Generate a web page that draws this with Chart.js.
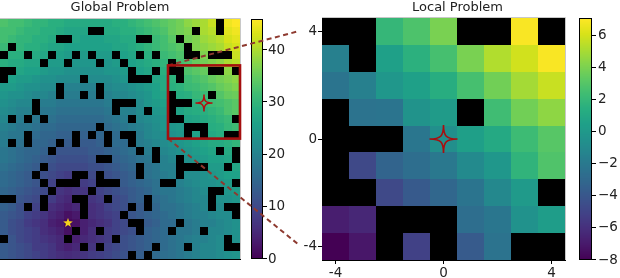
<!DOCTYPE html>
<html><head><meta charset="utf-8">
<script src="https://cdn.jsdelivr.net/npm/chart.js@4.4.0/dist/chart.umd.min.js"></script>
<style>
html,body{margin:0;padding:0;background:#fff;}
#wrap{position:relative;width:620px;height:278px;overflow:hidden;background:#fff;}
canvas{position:absolute;top:0;}
</style></head><body>
<div id="wrap">
<canvas id="g" width="620" height="278" style="left:0;width:620px;height:278px"></canvas>
<canvas id="l" width="325" height="278" style="left:295px;width:325px;height:278px"></canvas>
</div>
<script>
// ---------- data ----------
const globalValues = [
[33,32,32,31,30,30,29,29,28,28,28,28,28,28,29,29,30,31,32,33,34,35,36,38,39,40,42,43,45,46],
[32,32,31,30,30,29,29,28,27,27,27,27,27,28,28,29,29,30,31,32,33,35,36,37,38,40,41,42,44,45],
[32,31,30,30,29,29,28,27,27,27,26,26,26,27,27,28,28,29,30,31,32,34,35,36,37,39,40,41,43,44],
[31,30,30,29,29,28,27,27,26,26,26,26,26,26,27,27,28,29,30,31,32,33,34,35,37,38,39,40,42,43],
[30,29,29,28,28,27,26,26,25,25,25,25,25,25,26,26,27,28,29,30,31,32,33,34,36,37,38,39,41,42],
[29,28,28,27,27,26,25,25,24,24,24,24,24,24,25,25,26,27,28,29,30,31,32,33,35,36,37,38,40,41],
[28,27,27,26,26,25,24,24,23,23,23,23,23,24,24,25,25,26,27,28,29,30,31,33,34,35,36,37,38,40],
[27,26,25,25,24,23,23,22,22,22,22,22,22,22,23,24,24,25,26,27,28,29.5,31,31.5,32.5,33.5,35,36,37,38],
[25,25,24,23,23,22,22,21,20,20,20,20,21,21,22,22,23,24,25,26,28,29,29.5,31,31.5,32.5,33.5,35,36,37],
[24,23,23,22,21,21,20,20,19,19,19,19,19,20,21,21,22,23,24,26,27,28,28.5,29,30.5,31,32,33.5,35,35.5],
[23,22,21,21,20,19,19,18,18,18,18,18,18,19,20,20,21,22,24,25,26,27,28,28,29,30.5,31.5,32,33,34],
[22,21,20,20,19,18,18,17,17,17,17,17,17,18,19,20,20,22,23,24,25,26,26.5,28,28.5,29,30,31,33,34],
[21,20,19,19,18,17,17,16,16,16,16,16,16,17,18,19,20,21,22,23,24,25,25.5,26.5,27,28,29,30,31,32],
[20,19,18,18,17,16,16,15,15,15,15,15,15,16,17,18,19,20,21,22.5,24,24,24.5,25.5,26.5,27.5,28.5,29,30.5,31.5],
[19,18,18,17,16,15,15,14,14,14,14,14,15,15,16,17,18,19,21,22,22.5,23,24,25,26,26.5,27.5,28.5,29,30],
[19,18,17,16,15,15,14,13,13,13,13,13,14,15,16,16,17,19,20,21,22,23,24,25,26,27,28,28,29,30],
[18,17,16,15,15,14,13,12,12,12,12,13,13,14,15,16,17,18,19,20,21,22,23,24,25,26,27,27,28,29],
[18,17,16,15,14,13,12,11,11,11,11,12,12,13,14,15,16,17,18,19,20,21,22,23,24,25,26,26,27,28],
[17,16,15,14,13,12,11,10,10,10,10,11,11,12,13,14,15,16,17,18,20,20,21,22,23,24,25,25,26,27],
[16,15,14,13,12,11,10,9,8,9,9,10,10,11,12,13,14,16,17,18,19,20,21,22,22,23,24,25,26,26],
[16,15,14,13,12,11,9,8,7,8,8,9,10,11,12,13,14,15,16,17,18,19,20,21,22,23,23,24,25,26],
[15,14,13,12,11,10,8,7,6,7,7,8,9,10,11,12,13,14,15,17,18,18,19,20,21,22,23,23,24,25],
[15,13,12,11,10,9,8,6,5,6,7,7,8,9,10,11,13,14,15,16,17,18,19,20,21,21,22,23,23,24],
[14,13,11,10,9,8,6,5,4,5,6,6,7,9,10,11,12,13,14,15,17,17,18,19,20,21,21,22,23,24],
[13,12,11,9,8,7,5,4,2,3,5,6,7,8,9,10,12,13,14,15,16,17,18,19,20,20,21,22,22,23],
[13,11,10,8,7,6,4,3,1,2,4,5,6,7,9,10,11,12,13,14,16,16,17,18,19,20,20,21,22,23],
[13,11,10,9,8,6,5,4,2,3,4,6,7,8,9,10,11,13,14,15,16,17,18,18,19,20,21,21,22,23],
[13,12,10,9,8,7,6,5,3,4,5,6,7,8,10,11,12,13,14,15,16,17,18,19,20,20,21,22,22,23],
[13,12,11,10,8,8,7,5,4,5,6,7,8,9,10,11,12,13,14,15,16,17,18,19,20,21,21,22,23,23],
[13,12,11,10,9,8,7,6,5.5,6,7,8,8.5,9.5,10.5,11.5,12.5,13.5,14.5,15.5,16.5,17,18,19,20,21,21,22,23,23.5]
];
// obstacle columns, one list per row (top to bottom)
const globalObstacles = [
[27],[11,12,24,27],[7,8,17,18,22],[1,23],
[0,3,6,9,11,14,17,19,23,24,26,27,28],
[5,8,12,15,21],[0,1,16,19,21,22,26,27,29],[0,10,16,17,18,22],[7,12],
[7,10,12,21,26],[4,14,15,16,21,22,23],[4,14,18,21],[1,3,5,16,21,22,29],
[12,23,24,25],[3,9,11,13,15,16,23,25,28,29],[1,3,7,9,13,16],[6,17,19,27,29],
[12,13,19,22,29],[5,17,22,23,24,25,28],[4,9,10,12,17,22],
[5,7,8,9,12,13,14,20,21,29],[6,11,26,27],[0,1,5,9,10,13,18,26],
[3,5,10,16,18,26,28,29],[10,15,29],[16,17,22],[9,12,17,21,25],[0,8,14,28],
[10,12,19,23,28,29],[16,18]
];
// local window values, rows from y=4 (top) to y=-4, columns x=-4..4 (null = obstacle)
const localValues = [
[null,null,2.0,2.8,4.0,null,null,7.0,null],
[-1.5,null,0.5,1.6,2.6,4.0,5.3,6.0,7.0],
[-2.2,-1.5,-0.1,0.5,1.4,2.6,3.8,5.0,5.8],
[null,-2.3,-2.2,-0.3,0.2,null,2.4,3.8,4.5],
[null,null,null,-2.1,-0.6,0.4,1.1,2.3,3.1],
[null,-4.7,-3.2,-2.6,-2.0,-0.9,-0.1,1.8,2.9],
[null,null,-4.7,-3.8,-3.0,-2.2,-1.0,0.1,null],
[-6.8,-6.4,null,null,null,-2.6,-2.1,-0.4,0.3],
[-8.0,-7.1,null,-5.1,null,-3.7,-2.3,null,null]
];
const localCoords = [-4,-3,-2,-1,0,1,2,3,4];
const globalBarTicks = [0,10,20,30,40];
const localBarTicks = [-8,-6,-4,-2,0,2,4,6];
const localAxisTicks = [-4,0,4];
const globalRange = [0,46];
const localRange = [-8,7.1];
const goalPoint = [8,25];
const agentGlobal = [25,10];
const agentLocal = [0,0];
const windowX = [20.5,29.5];
const windowY = [5.3,14.45];
const connectorTargets = [[-5.4,4.0],[-5.4,-3.9]];

// ---------- helpers ----------
Chart.defaults.font.family = "'DejaVu Sans', sans-serif";
Chart.defaults.color = '#222';
const VIR = ['#440154','#48186a','#472d7b','#424086','#3b528b','#33638d','#2c728e','#26828e','#21918c','#1fa088','#28ae80','#3fbc73','#5ec962','#84d44b','#addc30','#d8e219','#fde725']
  .map(h=>[parseInt(h.slice(1,3),16),parseInt(h.slice(3,5),16),parseInt(h.slice(5,7),16)]);
function viridis(t){
  t=Math.max(0,Math.min(1,t));
  const p=t*(VIR.length-1); const i=Math.min(VIR.length-2,Math.floor(p)); const f=p-i;
  const a=VIR[i], b=VIR[i+1];
  return 'rgb('+Math.round(a[0]+(b[0]-a[0])*f)+','+Math.round(a[1]+(b[1]-a[1])*f)+','+Math.round(a[2]+(b[2]-a[2])*f)+')';
}
function noPad(s){ s.paddingTop=0; s.paddingBottom=0; s.paddingLeft=0; s.paddingRight=0; }
function drawColorbar(ctx, scale, x0, w, range, ticks){
  const lo=range[0], hi=range[1], n=240;
  for(let i=0;i<n;i++){
    const v0=lo+(hi-lo)*i/n, v1=lo+(hi-lo)*(i+1)/n;
    const ya=scale.getPixelForValue(v1), yb=scale.getPixelForValue(v0);
    ctx.fillStyle=viridis(((v0+v1)/2-lo)/(hi-lo));
    ctx.fillRect(x0, Math.floor(ya), w, Math.ceil(yb)-Math.floor(ya));
  }
  const top=scale.getPixelForValue(hi), bot=scale.getPixelForValue(lo);
  ctx.strokeStyle='#000'; ctx.lineWidth=1;
  ctx.strokeRect(x0+0.5, Math.round(top)+0.5, w-1, Math.round(bot-top)-1);
  ctx.beginPath();
  ticks.forEach(v=>{ const y=Math.round(scale.getPixelForValue(v))-0.5; ctx.moveTo(x0+w, y); ctx.lineTo(x0+w+4, y); });
  ctx.stroke();
}
function sparkle(ctx, cx, cy, R){
  const k=0.2*R;
  ctx.beginPath();
  ctx.moveTo(cx, cy-R);
  ctx.bezierCurveTo(cx, cy-k, cx+k, cy, cx+R, cy);
  ctx.bezierCurveTo(cx+k, cy, cx, cy+k, cx, cy+R);
  ctx.bezierCurveTo(cx, cy+k, cx-k, cy, cx-R, cy);
  ctx.bezierCurveTo(cx-k, cy, cx, cy-k, cx, cy-R);
  ctx.closePath();
}
function star5(ctx, cx, cy, ro, ri){
  ctx.beginPath();
  for(let i=0;i<10;i++){
    const r=i%2?ri:ro, a=i*Math.PI/5;
    const px=cx+r*Math.sin(a), py=cy-r*Math.cos(a);
    i?ctx.lineTo(px,py):ctx.moveTo(px,py);
  }
  ctx.closePath();
}
function spines(ctx, a){
  ctx.lineWidth=1;
  ctx.strokeStyle='#c8c8c8';
  ctx.beginPath(); ctx.moveTo(a.left, a.top-0.5); ctx.lineTo(a.right+0.5, a.top-0.5);
  ctx.lineTo(a.right+0.5, a.bottom); ctx.stroke();
}

// ---------- local chart ----------
const localPlugin = {
  id:'localMap',
  beforeDatasetsDraw(chart){
    const {ctx}=chart; const {x,y,cb}=chart.scales;
    ctx.save();
    localValues.forEach((row,ri)=>{
      const yv=localCoords[localCoords.length-1-ri];
      row.forEach((v,ci)=>{
        const xv=localCoords[ci];
        const xa=x.getPixelForValue(xv-0.5), xb=x.getPixelForValue(xv+0.5);
        const ya=y.getPixelForValue(yv+0.5), yb=y.getPixelForValue(yv-0.5);
        ctx.fillStyle = v===null ? '#000' : viridis((v-localRange[0])/(localRange[1]-localRange[0]));
        ctx.fillRect(Math.round(xa), Math.round(ya), Math.round(xb)-Math.round(xa), Math.round(yb)-Math.round(ya));
      });
    });
    drawColorbar(ctx, cb, cb.left+14, 13, localRange, localBarTicks);
    ctx.restore();
  },
  afterDraw(chart){
    const {ctx}=chart; const {x,y}=chart.scales;
    ctx.save();
    spines(ctx, chart.chartArea);
    sparkle(ctx, x.getPixelForValue(agentLocal[0]), y.getPixelForValue(agentLocal[1]), 14);
    ctx.strokeStyle='#a80f0f'; ctx.lineWidth=1.6; ctx.stroke();
    ctx.restore();
  }
};
const lChart = new Chart(document.getElementById('l'), {
  type:'scatter',
  data:{datasets:[{data:[]}]},
  options:{
    responsive:false, animation:false, devicePixelRatio:1,
    layout:{padding:0},
    plugins:{legend:{display:false}, tooltip:{enabled:false},
      title:{display:true, text:'Local Problem', fullSize:true, color:'#222', font:{size:13, weight:'normal'}, padding:{top:0,bottom:2.4}}},
    scales:{
      x:{type:'linear', position:'bottom', min:-4.5, max:4.5,
         afterFit:s=>{s.height=18; noPad(s);}, afterBuildTicks:s=>{s.ticks=localAxisTicks.map(v=>({value:v}));},
         grid:{drawOnChartArea:false, tickLength:4, color:'#000'}, border:{display:true,color:'#000'},
         ticks:{padding:1, color:'#222', font:{size:13.5}, maxRotation:0, minRotation:0, autoSkip:false}},
      y:{type:'linear', position:'left', min:-4.5, max:4.5,
         afterFit:s=>{s.width=27; noPad(s);}, afterBuildTicks:s=>{s.ticks=localAxisTicks.map(v=>({value:v}));},
         grid:{drawOnChartArea:false, tickLength:4, color:'#000'}, border:{display:true,color:'#000'},
         ticks:{padding:1, color:'#222', font:{size:13.5}, autoSkip:false}},
      cb:{type:'linear', axis:'y', position:'right', min:localRange[0], max:localRange[1],
         afterFit:s=>{s.width=55; noPad(s);}, afterBuildTicks:s=>{s.ticks=localBarTicks.map(v=>({value:v}));},
         grid:{display:false, drawTicks:false}, border:{display:false},
         ticks:{padding:33, color:'#222', font:{size:13.5}, autoSkip:false,
           callback:v=> v<0 ? '\u2212'+Math.abs(v) : String(v)}}
    }
  },
  plugins:[localPlugin]
});

// ---------- global chart ----------
const globalPlugin = {
  id:'globalMap',
  beforeDatasetsDraw(chart){
    const {ctx}=chart; const {x,y,cb}=chart.scales;
    ctx.save();
    globalValues.forEach((row,r)=>{
      const obs=globalObstacles[r];
      row.forEach((v,c)=>{
        const xa=x.getPixelForValue(c-0.5), xb=x.getPixelForValue(c+0.5);
        const ya=y.getPixelForValue(r-0.5), yb=y.getPixelForValue(r+0.5);
        ctx.fillStyle = obs.includes(c) ? '#000' : viridis((v-globalRange[0])/(globalRange[1]-globalRange[0]));
        ctx.fillRect(Math.round(xa), Math.round(ya), Math.round(xb)-Math.round(xa), Math.round(yb)-Math.round(ya));
      });
    });
    drawColorbar(ctx, cb, cb.left+11, 12, globalRange, globalBarTicks);
    ctx.restore();
  },
  afterDraw(chart){
    const {ctx}=chart; const {x,y}=chart.scales; const a=chart.chartArea;
    ctx.save();
    ctx.lineWidth=1; ctx.strokeStyle='#c8c8c8';
    ctx.beginPath(); ctx.moveTo(a.left, a.top-0.5); ctx.lineTo(a.right+0.5, a.top-0.5); ctx.lineTo(a.right+0.5, a.bottom); ctx.stroke();
    ctx.strokeStyle='#000'; ctx.beginPath(); ctx.moveTo(a.left, a.bottom+0.5); ctx.lineTo(a.right+1, a.bottom+0.5); ctx.stroke();
    // connectors
    const lx=lChart.scales.x, ly=lChart.scales.y;
    const off=lChart.canvas.offsetLeft-chart.canvas.offsetLeft;
    const bx=x.getPixelForValue(windowX[0]);
    const starts=[y.getPixelForValue(windowY[0]), y.getPixelForValue(windowY[1])];
    ctx.setLineDash([5,3.5]); ctx.strokeStyle='#8e3a30'; ctx.lineWidth=2;
    connectorTargets.forEach((t,i)=>{
      ctx.beginPath(); ctx.moveTo(bx, starts[i]);
      ctx.lineTo(off+lx.getPixelForValue(t[0]), ly.getPixelForValue(t[1])); ctx.stroke();
    });
    ctx.setLineDash([]);
    // window box
    const x0=x.getPixelForValue(windowX[0]), x1=x.getPixelForValue(windowX[1]);
    const y0=y.getPixelForValue(windowY[0]), y1=y.getPixelForValue(windowY[1]);
    ctx.strokeStyle='#a50f0f'; ctx.lineWidth=2.6;
    ctx.strokeRect(x0, y0, x1-x0, y1-y0);
    // agent star
    sparkle(ctx, x.getPixelForValue(agentGlobal[0]), y.getPixelForValue(agentGlobal[1]), 8.5);
    ctx.strokeStyle='#b01010'; ctx.lineWidth=1.5; ctx.stroke();
    // goal star
    star5(ctx, x.getPixelForValue(goalPoint[0]), y.getPixelForValue(goalPoint[1]), 5, 2.1);
    ctx.fillStyle='#f6d21c'; ctx.fill();
    ctx.restore();
  }
};
const gChart = new Chart(document.getElementById('g'), {
  type:'scatter',
  data:{datasets:[{data:[]}]},
  options:{
    responsive:false, animation:false, devicePixelRatio:1,
    layout:{padding:{left:0, top:0, right:325, bottom:19}},
    plugins:{legend:{display:false}, tooltip:{enabled:false},
      title:{display:true, text:'Global Problem', fullSize:false, color:'#222', font:{size:13, weight:'normal'}, padding:{top:0,bottom:3.4}}},
    scales:{
      x:{type:'linear', min:-0.5, max:29.5, display:false},
      y:{type:'linear', min:-0.5, max:29.5, reverse:true, display:false},
      cb:{type:'linear', axis:'y', position:'right', min:globalRange[0], max:globalRange[1],
         afterFit:s=>{s.width=55; noPad(s);}, afterBuildTicks:s=>{s.ticks=globalBarTicks.map(v=>({value:v}));},
         grid:{display:false, drawTicks:false}, border:{display:false},
         ticks:{padding:28, color:'#222', font:{size:13.5}, autoSkip:false}}
    }
  },
  plugins:[globalPlugin]
});
</script>
</body></html>
